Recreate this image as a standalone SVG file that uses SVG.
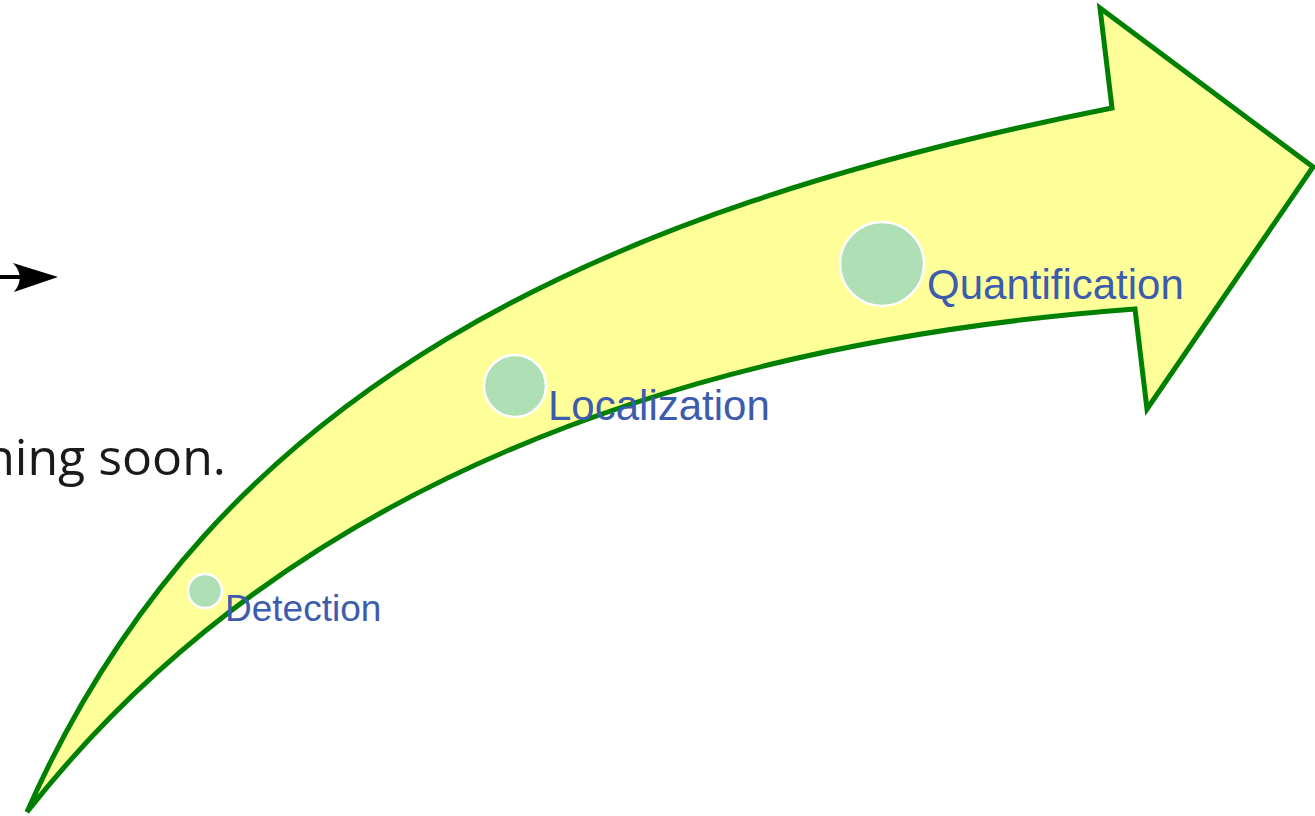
<svg xmlns="http://www.w3.org/2000/svg" width="1315" height="816" viewBox="0 0 1315 816">
<style>
.lbl{font-family:"Liberation Sans",Arial,sans-serif;fill:#3d5cae}
.dot{fill:#afdfb5;stroke:#ffffff;stroke-width:2.5}
.slide{font-family:"Open Sans","DejaVu Sans",sans-serif;fill:#1a1a1a}
</style>
<rect width="1315" height="816" fill="#ffffff"/>
<text class="slide" x="226" y="475" font-size="50" text-anchor="end">ning soon.</text>
<g id="connectors">
<line x1="-2" y1="277" x2="30" y2="277" stroke="#000" stroke-width="4"/>
<path d="M58,277 L13,263 Q26,277 14,292 Z" fill="#000"/>
</g>
<g id="arrow">
<path d="M27,812 C215,385 600,210 1112,108 L1100,8 L1313,167 L1147,409 L1135,309 C720,340 300,465 27,812 Z" fill="#ffff99" stroke="#008000" stroke-width="5" stroke-linejoin="miter"/>
</g>
<g id="detection">
<circle class="dot" cx="205" cy="591" r="17"/>
<text class="lbl" x="225" y="621" font-size="37">Detection</text>
</g>
<g id="localization">
<circle class="dot" cx="515" cy="386" r="31"/>
<text class="lbl" x="548" y="420" font-size="42">Localization</text>
</g>
<g id="quantification">
<circle class="dot" cx="882" cy="264" r="42"/>
<text class="lbl" x="927" y="299" font-size="42">Quantification</text>
</g>
</svg>
